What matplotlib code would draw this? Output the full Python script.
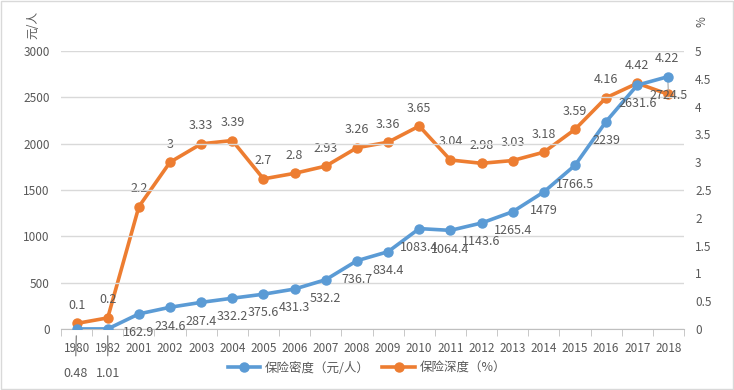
import matplotlib
matplotlib.use("Agg")
import matplotlib.pyplot as plt
from matplotlib.patches import Rectangle

plt.rcParams["font.family"] = ["Noto Sans CJK SC", "DejaVu Sans"]

YEARS = ["1980", "1982", "2001", "2002", "2003", "2004", "2005", "2006", "2007",
         "2008", "2009", "2010", "2011", "2012", "2013", "2014", "2015", "2016",
         "2017", "2018"]
DENSITY = [0.48, 1.01, 162.9, 234.6, 287.4, 332.2, 375.6, 431.3, 532.2, 736.7,
           834.4, 1083.4, 1064.4, 1143.6, 1265.4, 1479, 1766.5, 2239, 2631.6, 2724.5]
DEPTH = [0.1, 0.2, 2.2, 3, 3.33, 3.39, 2.7, 2.8, 2.93, 3.26, 3.36, 3.65, 3.04,
         2.98, 3.03, 3.18, 3.59, 4.16, 4.42, 4.22]

BLUE = "#5B9BD5"
ORANGE = "#ED7D31"
TXT = "#595959"
GRID = "#D9D9D9"

fig = plt.figure(figsize=(7.34, 3.90), dpi=100)
ax = fig.add_axes([61 / 734, 1 - 329 / 390, 623 / 734, 278 / 390])
ax2 = ax.twinx()

x = list(range(len(YEARS)))

l1, = ax.plot(x, DENSITY, color=BLUE, lw=2.6, marker="o", ms=6.5, zorder=3,
              label="保险密度（元/人）")
l2, = ax2.plot(x, DEPTH, color=ORANGE, lw=2.6, marker="o", ms=6.5, zorder=3,
               label="保险深度（%）")

# blue series drawn above the orange one
ax.set_zorder(ax2.get_zorder() + 1)
ax.patch.set_visible(False)

ax.set_ylim(0, 3000)
ax2.set_ylim(0, 5)
ax.set_xlim(-0.5, len(YEARS) - 0.5)
ax.set_yticks(range(0, 3001, 500))
ax2.set_yticks([i * 0.5 for i in range(11)])
ax2.set_yticklabels([("%g" % (i * 0.5)) for i in range(11)])
ax.grid(axis="y", color=GRID, lw=1)
ax.set_axisbelow(True)

ax.set_xticks(x)
ax.set_xticklabels(YEARS)
ax.set_xticks([i - 0.5 for i in range(len(YEARS) + 1)], minor=True)
ax.tick_params(axis="x", which="major", length=0, pad=9, labelsize=8.5, colors=TXT)
ax.tick_params(axis="x", which="minor", length=5, color="#BFBFBF", direction="out")
ax.tick_params(axis="y", length=0, labelsize=8.5, colors=TXT, pad=8)
ax2.tick_params(axis="y", length=0, labelsize=8.5, colors=TXT, pad=8)

for a in (ax, ax2):
    for s in ("top", "left", "right", "bottom"):
        a.spines[s].set_visible(False)
ax.spines["bottom"].set_visible(True)
ax.spines["bottom"].set_color("#BFBFBF")

# data labels
for i, v in enumerate(DENSITY):
    if i < 2:
        ax.annotate("%g" % v, (i, v), xytext=(-1 if i == 0 else 0, -32),
                    textcoords="offset points", ha="center", va="center",
                    fontsize=9, color=TXT, zorder=1,
                    arrowprops=dict(arrowstyle="-", color="#8C8C8C", lw=1.0,
                                    shrinkA=6, shrinkB=5))
    else:
        ax.annotate("%g" % v, (i, v), xytext=(0, -13.5), textcoords="offset points",
                    ha="center", va="center", fontsize=9, color=TXT)

for i, v in enumerate(DEPTH):
    if i == len(DEPTH) - 1:
        ax2.annotate("%g" % v, (i, v), xytext=(-1, 26), textcoords="offset points",
                     ha="center", va="center", fontsize=9, color=TXT,
                     arrowprops=dict(arrowstyle="-", color="#A6A6A6", lw=0.8,
                                     shrinkA=6, shrinkB=3))
    else:
        ax2.annotate("%g" % v, (i, v), xytext=(0, 13), textcoords="offset points",
                     ha="center", va="center", fontsize=9, color=TXT)

fig.text(33 / 734, 1 - 25 / 390, "元/人", rotation=90, ha="center", va="center",
         fontsize=8.5, color=TXT)
fig.text(702 / 734, 1 - 22 / 390, "%", rotation=90, ha="center", va="center",
         fontsize=8.5, color=TXT)

fig.legend(handles=[l1, l2], loc="center", bbox_to_anchor=(0.5, 1 - 368 / 390),
           ncol=2, frameon=False, fontsize=9, labelcolor=TXT, handlelength=2.6,
           columnspacing=1.0, handletextpad=0.4)

fig.patches.append(Rectangle((0.002, 0.003), 0.996, 0.994, transform=fig.transFigure,
                             fill=False, edgecolor=GRID, lw=1))

fig.savefig("out.png", dpi=100)
